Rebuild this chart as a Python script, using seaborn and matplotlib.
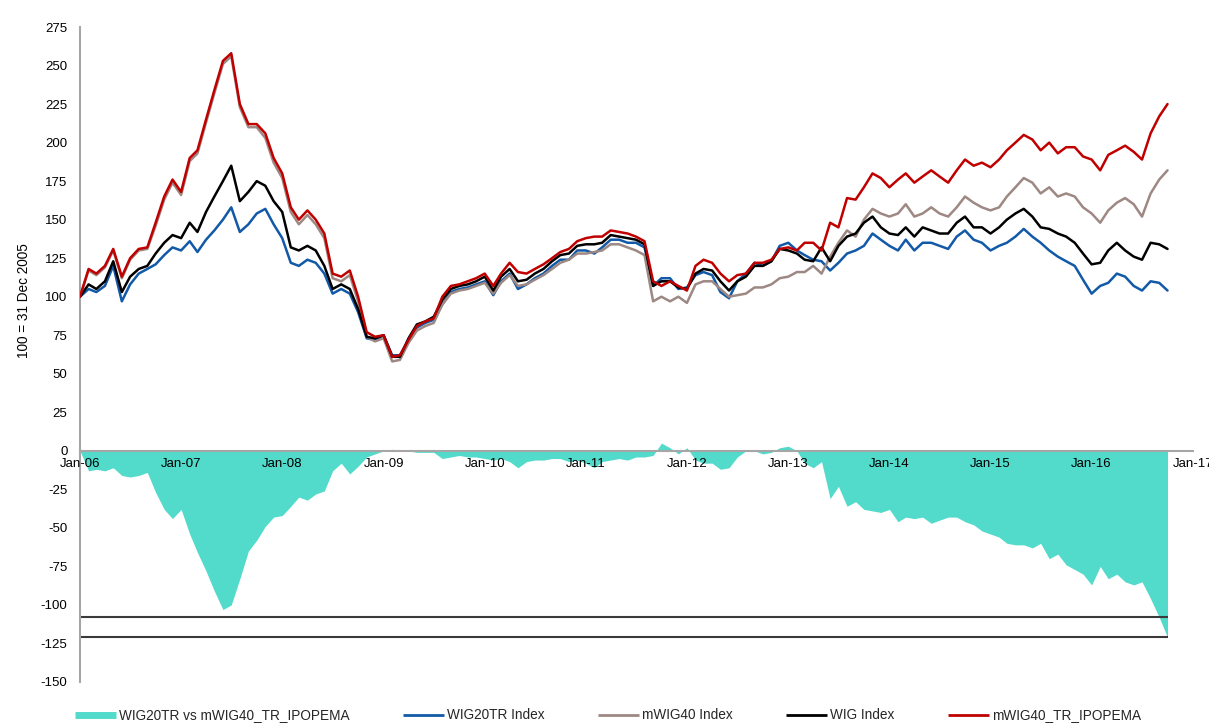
import numpy as np
import pandas as pd
import matplotlib
matplotlib.use("Agg")
import matplotlib.pyplot as plt
import matplotlib.dates as mdates
from matplotlib.lines import Line2D
import seaborn as sns

# ---------------- data (monthly readings, 100 = 31 Dec 2005) ----------------
dates = pd.date_range("2006-01-01", periods=130, freq="MS")

wig20tr = [
    100, 105, 103, 107, 120, 97, 108, 115, 118, 121, 127, 132,
    130, 136, 129, 137, 143, 150, 158, 142, 147, 154, 157, 147,
    138, 122, 120, 124, 122, 115, 102, 105, 102, 90, 73, 72,
    75, 62, 62, 72, 80, 83, 85, 95, 103, 105, 106, 108,
    110, 101, 110, 115, 105, 108, 112, 115, 120, 124, 124, 130,
    130, 128, 132, 137, 137, 135, 135, 132, 107, 112, 112, 105,
    106, 114, 116, 114, 103, 99, 110, 115, 122, 120, 123, 133,
    135, 130, 127, 124, 123, 117, 122, 128, 130, 133, 141, 137,
    133, 130, 137, 130, 135, 135, 133, 131, 139, 143, 137, 135,
    130, 133, 135, 139, 144, 139, 135, 130, 126, 123, 120, 111,
    102, 107, 109, 115, 113, 107, 104, 110, 109, 104,
]

mwig40 = [
    100, 117, 114, 119, 130, 112, 124, 130, 131, 146, 163, 174,
    166, 188, 193, 213, 232, 251, 256, 223, 210, 210, 203, 187,
    177, 155, 147, 153, 147, 138, 112, 110, 114, 97, 74, 71,
    73, 58, 59, 70, 78, 81, 83, 95, 102, 104, 105, 107,
    109, 102, 109, 114, 107, 108, 111, 114, 118, 122, 124, 128,
    128, 129, 130, 134, 134, 132, 130, 127, 97, 100, 97, 100,
    96, 108, 110, 110, 105, 100, 101, 102, 106, 106, 108, 112,
    113, 116, 116, 120, 115, 126, 135, 143, 139, 150, 157, 154,
    152, 154, 160, 152, 154, 158, 154, 152, 158, 165, 161, 158,
    156, 158, 165, 171, 177, 174, 167, 171, 165, 167, 165, 158,
    154, 148, 156, 161, 164, 160, 152, 167, 176, 182,
]

wig = [
    100, 108, 105, 110, 123, 103, 113, 118, 120, 128, 135, 140,
    138, 148, 142, 155, 165, 175, 185, 162, 168, 175, 172, 162,
    155, 132, 130, 133, 130, 120, 105, 108, 105, 92, 74, 73,
    75, 61, 61, 73, 82, 84, 87, 98, 105, 107, 108, 110,
    113, 104, 113, 118, 110, 111, 115, 118, 123, 127, 128, 133,
    134, 134, 135, 140, 139, 138, 137, 134, 107, 110, 110, 106,
    105, 115, 118, 117, 110, 104, 110, 113, 120, 120, 123, 131,
    130, 128, 124, 123, 132, 123, 133, 139, 141, 148, 152, 145,
    141, 140, 145, 139, 145, 143, 141, 141, 148, 152, 145, 145,
    141, 145, 150, 154, 157, 152, 145, 144, 141, 139, 135, 128,
    121, 122, 130, 135, 130, 126, 124, 135, 134, 131,
]

mwig40tr = [
    100, 118, 115, 120, 131, 113, 125, 131, 132, 148, 165, 176,
    168, 190, 195, 215, 234, 253, 258, 225, 212, 212, 206, 190,
    180, 158, 150, 156, 150, 141, 115, 113, 117, 100, 77, 74,
    75, 61, 62, 72, 81, 84, 86, 100, 107, 108, 110, 112,
    115, 107, 115, 122, 116, 115, 118, 121, 125, 129, 131, 136,
    138, 139, 139, 143, 142, 141, 139, 136, 110, 107, 110, 107,
    104, 120, 124, 122, 115, 110, 114, 115, 122, 122, 124, 131,
    132, 130, 135, 135, 130, 148, 145, 164, 163, 171, 180, 177,
    171, 176, 180, 174, 178, 182, 178, 174, 182, 189, 185, 187,
    184, 189, 195, 200, 205, 202, 195, 200, 193, 197, 197, 191,
    189, 182, 192, 195, 198, 194, 189, 206, 217, 225,
]

series_names = ["WIG20TR Index", "mWIG40 Index", "WIG Index", "mWIG40_TR_IPOPEMA"]
diff_name = "WIG20TR vs mWIG40_TR_IPOPEMA"
ref_levels = [-108, -121]
y_ticks = list(range(-150, 276, 25))
x_tick_years = list(range(2006, 2018))
y_label = "100 = 31 Dec 2005"

# ---------------- styling ----------------
colors = {
    "WIG20TR Index": "#1259A8",
    "mWIG40 Index": "#9E8883",
    "WIG Index": "#000000",
    "mWIG40_TR_IPOPEMA": "#C00000",
}
fill_color = "#52DACB"

sns.set_theme(style="white")
plt.rcParams["font.family"] = ["Liberation Sans", "DejaVu Sans"]
plt.rcParams["axes.unicode_minus"] = False

fig = plt.figure(figsize=(12.09, 7.26), dpi=100)
ax = fig.add_axes([80 / 1209, 1 - 682 / 726, (1193 - 80) / 1209, (682 - 27) / 726])

df = pd.DataFrame({
    "date": np.tile(dates, 4),
    "value": np.concatenate([wig20tr, mwig40, wig, mwig40tr]),
    "series": np.repeat(series_names, len(dates)),
})
diff = np.array(wig20tr) - np.array(mwig40tr)

# difference area
ax.fill_between(dates, 0, diff, color=fill_color, linewidth=0, zorder=1)

# reference lines
ax.hlines(ref_levels, dates[0], dates[-1], colors="#3A3A3A", linewidth=1.5, zorder=2)

# index lines
sns.lineplot(data=df, x="date", y="value", hue="series", hue_order=series_names,
             palette=colors, linewidth=1.8, legend=False, ax=ax, zorder=3)

ax.set_xlim(pd.Timestamp("2006-01-01"), pd.Timestamp("2017-01-01"))
ax.set_ylim(-150, 275)
ax.set_yticks(y_ticks)
ax.set_xticks([pd.Timestamp(f"{y}-01-01") for y in x_tick_years])
ax.xaxis.set_major_formatter(mdates.DateFormatter("%b-%y"))

ax.set_axisbelow(False)
ax.xaxis.set_zorder(4)
ax.yaxis.set_zorder(4)
for s in ["top", "right"]:
    ax.spines[s].set_visible(False)
ax.spines["bottom"].set_position(("data", 0))
for s in ["left", "bottom"]:
    ax.spines[s].set_color("#A6A6A6")
    ax.spines[s].set_linewidth(1.5)
    ax.spines[s].set_zorder(2.5)

ax.tick_params(axis="y", direction="out", length=4, width=1, color="#A6A6A6",
               labelsize=9.5, labelcolor="#000000", pad=5)
ax.tick_params(axis="x", direction="in", length=4, width=1, color="#A6A6A6",
               labelsize=9.5, labelcolor="#000000", pad=5)
ax.set_xlabel("")
ax.set_ylabel(y_label, fontsize=9.8, color="#000000")
ax.yaxis.set_label_coords(-0.044, 0.583)
ax.grid(False)

handles = [Line2D([0], [0], color=fill_color, linewidth=5, solid_capstyle="butt")] + \
          [Line2D([0], [0], color=colors[n], linewidth=2, solid_capstyle="butt") for n in series_names]
labels = [diff_name] + series_names
fig.legend(handles, labels, loc="lower center", bbox_to_anchor=(0.503, -0.012),
           ncol=5, frameon=False, fontsize=9.8, handlelength=3.0, handletextpad=0.25,
           columnspacing=3.9)

fig.savefig("out.png", dpi=100)
